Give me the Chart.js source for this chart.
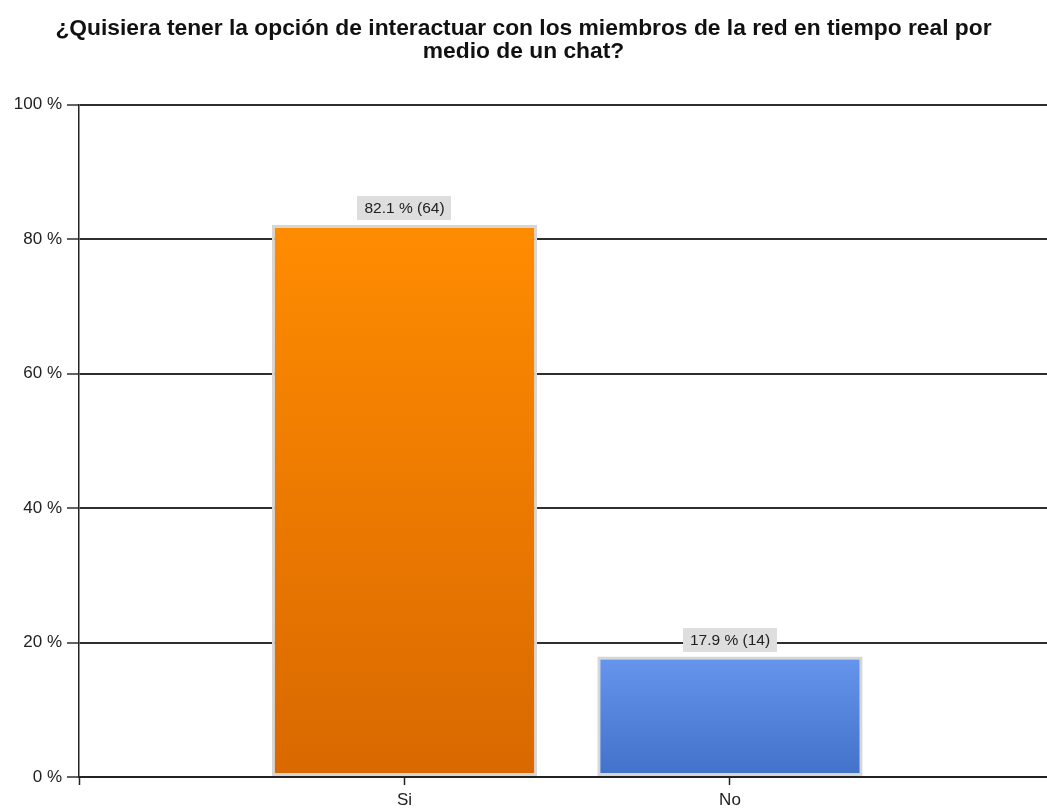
<!DOCTYPE html>
<html>
<head>
<meta charset="utf-8">
<title>Chat en tiempo real</title>
<script src="https://cdn.jsdelivr.net/npm/chart.js@4/dist/chart.umd.min.js"></script>
<style>
  html, body { margin: 0; padding: 0; background: #fff; overflow: hidden; }
  canvas { display: block; }
</style>
</head>
<body>
<canvas id="chatChart" width="1047" height="810"></canvas>
<script>
// Survey answers
const categories = ["Si", "No"];
const percentages = [82.1, 17.9];
const counts = [64, 14];
const yTicks = [0, 20, 40, 60, 80, 100];

// Gradient stops per bar (top, bottom)
const topColors = ["#ff8c00", "#6595ec"];
const bottomColors = ["#d96800", "#4171c9"];

const points = categories.map((c, i) => ({ x: i + 1, y: percentages[i] }));

// Grey boxed value label above each bar
const valueLabels = {
  id: "valueLabels",
  afterDatasetsDraw(chart) {
    const ctx = chart.ctx;
    const meta = chart.getDatasetMeta(0);
    ctx.save();
    ctx.font = "15.5px 'Liberation Sans', Arial, sans-serif";
    ctx.textAlign = "center";
    ctx.textBaseline = "middle";
    meta.data.forEach((bar, i) => {
      const text = percentages[i] + " % (" + counts[i] + ")";
      const w = ctx.measureText(text).width + 14;
      const h = 24;
      const bottom = bar.y - 5;
      ctx.fillStyle = "#dedede";
      ctx.fillRect(Math.round(bar.x - w / 2), Math.round(bottom - h), Math.round(w), h);
      ctx.fillStyle = "#222";
      ctx.fillText(text, bar.x, bottom - h / 2 + 1);
    });
    ctx.restore();
  }
};

new Chart(document.getElementById("chatChart"), {
  type: "bar",
  data: {
    datasets: [{
      data: points,
      backgroundColor: (c) => {
        const chart = c.chart;
        const i = c.dataIndex;
        if (!chart.chartArea || i === undefined) return topColors[i || 0];
        const yScale = chart.scales.y;
        const top = yScale.getPixelForValue(percentages[i]);
        const bottom = yScale.getPixelForValue(0);
        const g = chart.ctx.createLinearGradient(0, top, 0, bottom);
        g.addColorStop(0, topColors[i]);
        g.addColorStop(1, bottomColors[i]);
        return g;
      },
      borderColor: "#d6d6d6",
      borderWidth: 3,
      borderSkipped: false,
      categoryPercentage: 1,
      barPercentage: 0.815
    }]
  },
  options: {
    responsive: false,
    animation: false,
    layout: { padding: 0 },
    plugins: {
      legend: { display: false },
      tooltip: { enabled: false },
      title: {
        display: true,
        text: ["¿Quisiera tener la opción de interactuar con los miembros de la red en tiempo real por", "medio de un chat?"],
        color: "#111",
        font: { family: "'Liberation Sans', Arial, sans-serif", size: 22.8, weight: "bold", lineHeight: 1.02 },
        padding: { top: 17, bottom: 41 }
      }
    },
    scales: {
      x: {
        type: "linear",
        offset: false,
        min: 0,
        max: 2.974,
        afterFit: (s) => { s.height = 33; },
        afterBuildTicks: (s) => { s.ticks = [0, 1, 2].map(v => ({ value: v })); },
        ticks: {
          autoSkip: false,
          maxRotation: 0,
          padding: 5,
          color: "#222",
          font: { family: "'Liberation Sans', Arial, sans-serif", size: 17 },
          callback: (v) => categories[v - 1] || ""
        },
        grid: { offset: false, drawOnChartArea: false, drawTicks: true, tickLength: 8, tickColor: "#222", tickWidth: 1.5 },
        border: { display: true, color: "#222", width: 2 }
      },
      y: {
        min: 0,
        max: 100,
        afterFit: (s) => { s.width = 79; },
        afterBuildTicks: (s) => { s.ticks = yTicks.map(v => ({ value: v })); },
        ticks: {
          padding: 5,
          color: "#222",
          font: { family: "'Liberation Sans', Arial, sans-serif", size: 17 },
          callback: (v) => v + " %"
        },
        grid: { color: "#2e2e2e", lineWidth: 2, drawTicks: true, tickLength: 12, tickColor: "#2e2e2e", tickWidth: 1.5 },
        border: { display: true, color: "#222", width: 1.5 }
      }
    }
  },
  plugins: [valueLabels]
});
</script>
</body>
</html>
